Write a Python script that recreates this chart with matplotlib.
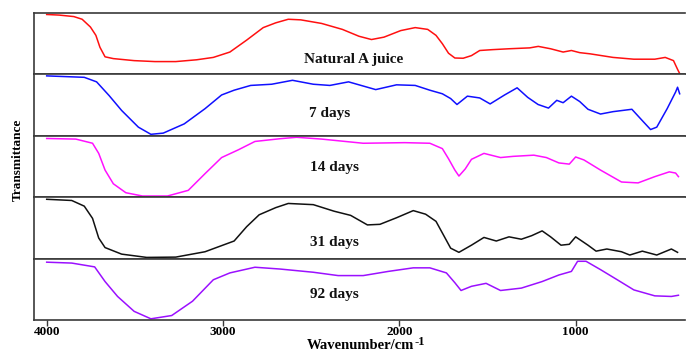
import matplotlib
matplotlib.use("Agg")
import matplotlib.pyplot as plt

plt.rcParams['font.family'] = ['Liberation Serif', 'DejaVu Serif']

# FTIR spectra (relative transmittance, 0-100 within each trace)
natural_wn = [4000, 3929, 3846, 3799, 3752, 3721, 3698, 3669, 3622, 3504, 3386, 3268, 3150, 3055,
              2961, 2866, 2772, 2701, 2630, 2559, 2441, 2323, 2229, 2158, 2087, 1992, 1910, 1839,
              1792, 1756, 1721, 1685, 1638, 1591, 1544, 1473, 1378, 1260, 1212, 1142, 1071, 1024,
              977, 918, 788, 670, 551, 492, 445, 422, 410]
natural_t = [99, 98, 95.5, 91, 78, 64, 44, 28, 25, 21.6, 20, 20, 23, 27,
             36, 56, 77, 85, 91, 90, 84, 74, 62.5, 57, 61, 72, 77, 74,
             64, 50, 34, 26, 25.6, 30, 38.6, 40, 41.5, 43, 45.5, 41.5, 36, 38.6,
             35, 33, 27, 24, 24, 27, 21.6, 7, 0]

d7_wn = [4000, 3787, 3717, 3646, 3575, 3480, 3409, 3339, 3220, 3102, 3008, 2937, 2843, 2724,
         2606, 2488, 2394, 2288, 2205, 2134, 2016, 1910, 1827, 1756, 1709, 1673, 1614, 1544,
         1485, 1403, 1332, 1272, 1213, 1154, 1107, 1071, 1024, 977, 930, 859, 788, 681,
         622, 575, 540, 481, 433, 422, 410]
d7_t = [99, 96.6, 89, 66, 41, 13, 1, 3, 18.5, 44, 67, 75, 83, 85,
        91.6, 85, 83, 89, 82, 76, 84, 83, 75, 69, 61, 51, 65, 62,
        52, 67, 79, 63, 51, 45, 58, 54, 65, 56, 43, 35, 39, 43,
        24, 9, 13, 44, 72, 80, 69]

d14_wn = [4000, 3835, 3740, 3705, 3669, 3622, 3551, 3457, 3315, 3197, 3102, 3008, 2913, 2819,
          2677, 2583, 2441, 2205, 1969, 1827, 1756, 1721, 1685, 1662, 1626, 1591, 1520, 1426,
          1355, 1237, 1166, 1095, 1036, 1000, 953, 859, 740, 646, 551, 469, 433, 417]
d14_t = [97, 96, 89, 72, 44, 21, 6, 0.5, 0.5, 10, 38, 65, 78, 92,
         96.6, 99, 96, 89, 90, 89, 80, 63, 44, 34, 46, 62, 72, 65,
         67, 69, 65, 56, 54, 66, 61, 44, 24, 22.5, 33, 41, 39, 33]

d31_wn = [4000, 3858, 3787, 3740, 3705, 3669, 3575, 3433, 3268, 3102, 2937, 2866, 2795, 2701,
          2630, 2488, 2370, 2276, 2181, 2110, 2016, 1921, 1851, 1792, 1744, 1709, 1662, 1591,
          1520, 1450, 1378, 1308, 1249, 1190, 1142, 1083, 1036, 1000, 930, 884, 823, 740,
          693, 622, 540, 457, 422]
d31_t = [98, 96, 86.5, 66, 33, 17, 6, 0.5, 1, 10, 28, 52, 72, 84,
         91, 89, 78, 71, 55, 56, 67, 79, 73, 61, 35, 16, 9, 21,
         34, 28, 35, 31, 37, 45, 35, 21, 22.5, 35, 21, 11, 14.6, 10,
         4.5, 11, 4.5, 14.6, 9]

d92_wn = [4000, 3858, 3728, 3669, 3598, 3504, 3409, 3291, 3173, 3055, 2961, 2819, 2677, 2488,
          2347, 2205, 2063, 1921, 1827, 1733, 1685, 1650, 1591, 1508, 1426, 1308, 1190, 1095,
          1024, 989, 941, 859, 764, 670, 551, 457, 417]
d92_t = [95.5, 94, 87.6, 63, 38, 13, 0.5, 6, 30, 66, 77.5, 87, 84, 78.6,
         73, 73, 80, 86, 86, 77.5, 61, 48, 55, 60, 48, 52, 63, 74,
         80, 97, 97, 83, 66, 49, 39, 38, 40]

labels = ["Natural A juice", "7 days", "14 days", "31 days", "92 days"]
colors = ["#ff1010", "#1010ff", "#ff10ff", "#111111", "#9b10ff"]
series = [(natural_wn, natural_t), (d7_wn, d7_t), (d14_wn, d14_t),
          (d31_wn, d31_t), (d92_wn, d92_t)]
label_pos = [(0.49, 0.25), (0.454, 0.36), (0.461, 0.49), (0.461, 0.26), (0.461, 0.41)]
x_ticks = [4000, 3000, 2000, 1000]

W, H = 686, 353
fig = plt.figure(figsize=(W / 100, H / 100), dpi=100)
gs = fig.add_gridspec(5, 1, left=34 / W, right=0.999, top=1 - 13 / H, bottom=1 - 320 / H, hspace=0)
axes = [fig.add_subplot(gs[i]) for i in range(5)]

spine_col = "#3a3a3a"
for i, ax in enumerate(axes):
    wn, t = series[i]
    ax.plot(wn, t, color=colors[i], lw=1.1)
    ax.set_xlim(4072, 378)
    ax.set_ylim(-1.5, 101.5)
    ax.set_yticks([])
    ax.spines['right'].set_visible(False)
    for s in ('top', 'bottom', 'left'):
        ax.spines[s].set_color(spine_col)
        ax.spines[s].set_linewidth(1.2)
    ax.text(label_pos[i][0], label_pos[i][1], labels[i], transform=ax.transAxes,
            ha='center', va='center', fontsize=11, fontweight='bold', color='#111111')
    if i < 4:
        ax.set_xticks([])
    else:
        ax.set_xticks(x_ticks)
        ax.set_xticklabels([str(v) for v in x_ticks], fontsize=9.5, fontweight='bold')
        ax.tick_params(axis='x', direction='out', length=4, width=1.0, color=spine_col, pad=0.5)

# axis title, with the "-1" exponent raised just after "cm"
base_y = 4
xl = fig.text(360 / W, base_y / H, "Wavenumber/cm", ha='center', va='baseline',
              fontsize=10.5, fontweight='bold')
fig.canvas.draw()
bb = xl.get_window_extent()
fig.text((bb.x1 + 1) / W, (base_y + 4) / H, "-1", ha='left', va='baseline',
         fontsize=9, fontweight='bold')

fig.text(18 / W, 1 - 160 / H, "Transmittance", rotation=90, ha='center', va='center',
         fontsize=9.5, fontweight='bold')

fig.savefig("out.png", dpi=100)
